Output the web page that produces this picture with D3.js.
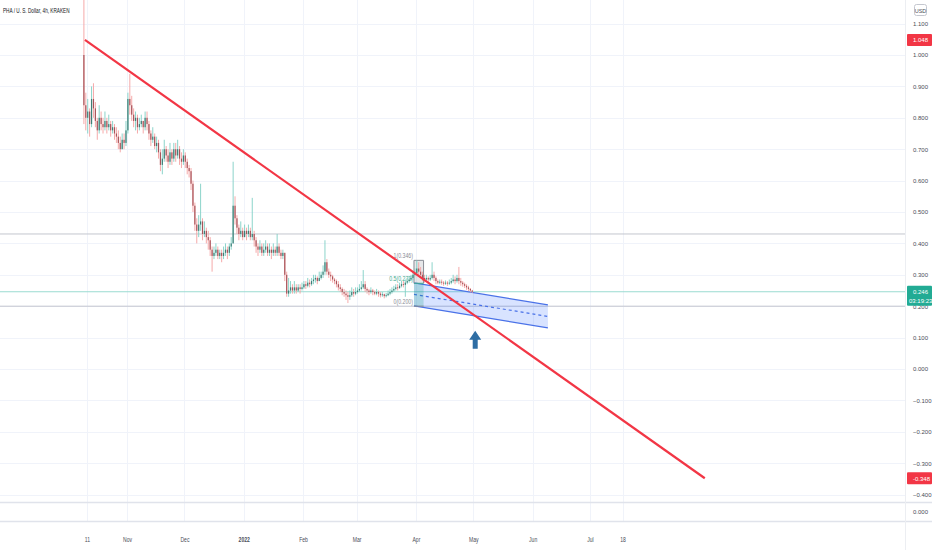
<!DOCTYPE html>
<html>
<head>
<meta charset="utf-8">
<script src="https://cdn.jsdelivr.net/npm/d3@7"></script>
<style>
  body { margin: 0; background: #fff; }
  text { font-family: "Liberation Sans Narrow", "Arial Narrow", "Liberation Sans", sans-serif; }
</style>
</head>
<body>
<svg id="chart" width="932" height="550"></svg>
<script>
// ---- data (daily candles) ----
var startDay = new Date(2021, 9, 9);
var firstOpen = 1.00;

var closes = [0.84,0.80,0.82,0.78,0.86,0.83,0.79,0.76,0.80,0.78,
0.77,0.79,0.77,0.78,0.76,0.77,0.75,0.74,0.72,0.70,
0.73,0.72,0.76,0.86,0.84,0.81,0.79,0.80,0.77,0.78,
0.79,0.77,0.80,0.78,0.75,0.73,0.74,0.71,0.72,0.69,
0.65,0.67,0.70,0.68,0.66,0.69,0.67,0.70,0.68,0.70,
0.67,0.66,0.68,0.66,0.64,0.63,0.59,0.52,0.46,0.44,
0.46,0.47,0.43,0.44,0.42,0.41,0.38,0.36,0.37,0.38,
0.36,0.37,0.36,0.37,0.38,0.37,0.39,0.40,0.52,0.48,
0.45,0.43,0.44,0.42,0.44,0.43,0.44,0.42,0.43,0.41,
0.39,0.38,0.39,0.37,0.38,0.39,0.37,0.38,0.37,0.38,
0.37,0.39,0.37,0.36,0.37,0.30,0.24,0.25,0.26,0.25,
0.26,0.25,0.26,0.255,0.26,0.27,0.265,0.275,0.27,0.28,
0.285,0.29,0.28,0.29,0.30,0.31,0.34,0.31,0.30,0.295,
0.285,0.28,0.27,0.26,0.255,0.245,0.24,0.235,0.23,0.235,
0.245,0.24,0.245,0.25,0.255,0.26,0.27,0.255,0.25,0.245,
0.25,0.245,0.24,0.245,0.24,0.235,0.238,0.232,0.235,0.24,
0.245,0.25,0.255,0.26,0.258,0.265,0.27,0.268,0.275,0.28,
0.285,0.29,0.30,0.305,0.32,0.31,0.30,0.29,0.285,0.29,
0.285,0.29,0.30,0.29,0.28,0.275,0.278,0.275,0.272,0.275,
0.272,0.275,0.28,0.285,0.28,0.29,0.28,0.275,0.27,0.265,
0.26,0.255,0.25,0.246];

var highs = [1.20,0.88,0.86,0.83,0.90,0.91,0.85,0.80,0.84,0.82,
0.80,0.82,0.80,0.81,0.79,0.79,0.78,0.77,0.76,0.74,
0.75,0.75,0.79,0.88,0.94,0.87,0.83,0.82,0.81,0.80,
0.81,0.79,0.82,0.82,0.79,0.76,0.77,0.75,0.74,0.73,
0.70,0.70,0.73,0.71,0.70,0.72,0.70,0.72,0.72,0.73,
0.71,0.69,0.70,0.69,0.67,0.65,0.64,0.60,0.53,0.48,
0.49,0.59,0.48,0.47,0.45,0.44,0.42,0.39,0.39,0.40,
0.39,0.38,0.38,0.39,0.40,0.39,0.40,0.42,0.66,0.55,
0.49,0.46,0.47,0.45,0.46,0.45,0.46,0.45,0.545,0.44,
0.42,0.40,0.41,0.40,0.40,0.41,0.40,0.40,0.39,0.40,
0.39,0.43,0.40,0.38,0.38,0.37,0.31,0.29,0.28,0.27,
0.28,0.27,0.27,0.27,0.275,0.28,0.28,0.29,0.285,0.29,
0.30,0.30,0.295,0.31,0.31,0.33,0.41,0.35,0.32,0.31,
0.30,0.29,0.285,0.28,0.27,0.26,0.255,0.25,0.245,0.25,
0.26,0.255,0.26,0.26,0.27,0.28,0.315,0.28,0.26,0.255,
0.26,0.255,0.25,0.255,0.25,0.245,0.245,0.24,0.242,0.25,
0.255,0.26,0.265,0.27,0.27,0.275,0.28,0.28,0.285,0.29,
0.295,0.30,0.31,0.32,0.346,0.34,0.325,0.31,0.30,0.30,
0.295,0.30,0.34,0.31,0.295,0.285,0.285,0.285,0.28,0.282,
0.28,0.285,0.29,0.30,0.295,0.30,0.325,0.29,0.28,0.275,
0.27,0.265,0.258,0.252];

var lows = [0.78,0.76,0.75,0.74,0.77,0.80,0.77,0.73,0.75,0.76,
0.75,0.76,0.75,0.76,0.74,0.75,0.73,0.72,0.70,0.69,
0.70,0.70,0.71,0.75,0.81,0.79,0.77,0.76,0.75,0.76,
0.77,0.75,0.76,0.76,0.73,0.71,0.72,0.70,0.69,0.67,
0.63,0.62,0.66,0.66,0.64,0.65,0.65,0.66,0.66,0.67,
0.65,0.64,0.65,0.64,0.62,0.61,0.57,0.50,0.44,0.40,
0.42,0.44,0.41,0.42,0.40,0.38,0.36,0.31,0.35,0.36,
0.35,0.35,0.34,0.35,0.36,0.35,0.36,0.38,0.40,0.46,
0.43,0.41,0.42,0.41,0.42,0.41,0.42,0.41,0.41,0.39,
0.37,0.36,0.37,0.36,0.36,0.37,0.36,0.36,0.35,0.36,
0.36,0.36,0.36,0.35,0.35,0.28,0.23,0.23,0.24,0.24,
0.24,0.24,0.245,0.24,0.25,0.255,0.255,0.26,0.26,0.265,
0.27,0.275,0.27,0.28,0.285,0.29,0.30,0.30,0.29,0.28,
0.275,0.27,0.26,0.25,0.245,0.235,0.23,0.22,0.21,0.22,
0.23,0.23,0.235,0.24,0.245,0.25,0.255,0.245,0.24,0.235,
0.24,0.235,0.235,0.235,0.23,0.228,0.23,0.225,0.228,0.232,
0.235,0.24,0.245,0.25,0.25,0.255,0.26,0.26,0.23,0.27,
0.275,0.28,0.285,0.295,0.30,0.295,0.29,0.28,0.275,0.28,
0.275,0.28,0.285,0.28,0.27,0.27,0.27,0.268,0.265,0.268,
0.265,0.268,0.27,0.275,0.27,0.275,0.27,0.265,0.262,0.258,
0.252,0.248,0.244,0.242];

// axes
var priceTicks = [1.1,1.0,0.9,0.8,0.7,0.6,0.5,0.4,0.3,0.2,0.1,0.0,-0.1,-0.2,-0.3,-0.4];
var timeTicks = [new Date(2021,9,11), new Date(2021,10,1), new Date(2021,11,1), new Date(2022,0,1),
  new Date(2022,1,1), new Date(2022,2,1), new Date(2022,3,1), new Date(2022,4,1),
  new Date(2022,5,1), new Date(2022,6,1), new Date(2022,6,18)];
var timeLabels = ["11","Nov","Dec","2022","Feb","Mar","Apr","May","Jun","Jul","18"];

// drawings
var trendDates = [new Date(2021,9,10), new Date(2022,7,30)];
var trendValues = [1.048, -0.348];
var levelValues = [0.43, 0.20];
var lastPrice = 0.246;
var channelDates = [new Date(2022,2,31), new Date(2022,5,9)];
var channelUpper = [0.274, 0.204];
var channelLower = [0.201, 0.131];
var fibDates = [new Date(2022,2,31), new Date(2022,3,5)];
var fibRatios = [1, 0.5, 0];
var fibValues = [0.346, 0.273, 0.200];
var arrowDate = new Date(2022,4,2);
var arrowValue = 0.122;
var axisBadges = [
  {v: 1.048, text: "1.048", color: "#f23645"},
  {v: 0.246, text: "0.246", sub: "03:19:23", color: "#22ab94"},
  {v: -0.348, text: "-0.348", color: "#f23645"}
];

// ---- layout ----
var W = 932, H = 550;
var plotRight = 905;
var paneBottom = 502, subPaneBottom = 521;

var svg = d3.select("#chart");

// squeeze text horizontally (no narrow font installed)
function condense(sel, k) {
  sel.each(function() {
    var l = this.getComputedTextLength();
    d3.select(this).attr("textLength", l * k).attr("lengthAdjust", "spacingAndGlyphs");
  });
}

var x = d3.scaleTime()
  .domain([new Date(2021,10,1), new Date(2022,6,1)])
  .range([127, 590]);
var y = d3.scaleLinear().domain([0, 1]).range([369, 55]);

var candles = closes.map(function(c, i) {
  var o = i === 0 ? firstOpen : closes[i-1];
  return {
    date: d3.timeDay.offset(startDay, i),
    open: o, close: c,
    high: Math.max(highs[i], o, c),
    low: Math.min(lows[i], o, c)
  };
});

// grid
svg.append("g").selectAll("line")
  .data(priceTicks).enter().append("line")
  .attr("x1", 0).attr("x2", plotRight)
  .attr("y1", function(d){ return Math.round(y(d)) + 0.5; })
  .attr("y2", function(d){ return Math.round(y(d)) + 0.5; })
  .attr("stroke", "#f0f3fa");
svg.append("g").selectAll("line")
  .data(timeTicks).enter().append("line")
  .attr("x1", function(d){ return Math.round(x(d)) + 0.5; })
  .attr("x2", function(d){ return Math.round(x(d)) + 0.5; })
  .attr("y1", 0).attr("y2", subPaneBottom)
  .attr("stroke", "#f0f3fa");

// pane borders
svg.append("line").attr("x1", 0).attr("x2", W).attr("y1", paneBottom + 0.5).attr("y2", paneBottom + 0.5)
  .attr("stroke", "#e0e3eb").attr("stroke-width", 1.5);
svg.append("line").attr("x1", 0).attr("x2", W).attr("y1", subPaneBottom + 0.5).attr("y2", subPaneBottom + 0.5)
  .attr("stroke", "#e0e3eb").attr("stroke-width", 1.5);
svg.append("line").attr("x1", plotRight + 0.5).attr("x2", plotRight + 0.5).attr("y1", 0).attr("y2", H)
  .attr("stroke", "#eceef2");

// horizontal levels
svg.append("g").selectAll("line")
  .data(levelValues).enter().append("line")
  .attr("x1", 0).attr("x2", plotRight)
  .attr("y1", function(d){ return y(d); }).attr("y2", function(d){ return y(d); })
  .attr("stroke", "#c3c6ce").attr("stroke-width", 1);
svg.append("line")
  .attr("x1", 0).attr("x2", plotRight)
  .attr("y1", y(lastPrice)).attr("y2", y(lastPrice))
  .attr("stroke", "#9adbd1").attr("stroke-width", 1);

// regression channel
var chPoly = [[x(channelDates[0]), y(channelUpper[0])], [x(channelDates[1]), y(channelUpper[1])],
  [x(channelDates[1]), y(channelLower[1])], [x(channelDates[0]), y(channelLower[0])]];
svg.append("path")
  .attr("d", "M" + chPoly.join("L") + "Z")
  .attr("fill", "rgba(41,98,255,0.18)");
[channelUpper, channelLower].forEach(function(vals) {
  svg.append("line")
    .attr("x1", x(channelDates[0])).attr("y1", y(vals[0]))
    .attr("x2", x(channelDates[1])).attr("y2", y(vals[1]))
    .attr("stroke", "#4a72e8").attr("stroke-width", 1.2);
});
svg.append("line")
  .attr("x1", x(channelDates[0])).attr("y1", y((channelUpper[0] + channelLower[0]) / 2))
  .attr("x2", x(channelDates[1])).attr("y2", y((channelUpper[1] + channelLower[1]) / 2))
  .attr("stroke", "#4a72e8").attr("stroke-width", 1.2).attr("stroke-dasharray", "3,3");

// fib retracement box
var fx0 = x(fibDates[0]), fx1 = x(fibDates[1]);
svg.append("rect")
  .attr("x", fx0).attr("width", fx1 - fx0)
  .attr("y", y(fibValues[0])).attr("height", y(fibValues[1]) - y(fibValues[0]))
  .attr("fill", "rgba(120,123,134,0.18)");
svg.append("rect")
  .attr("x", fx0).attr("width", fx1 - fx0)
  .attr("y", y(fibValues[1])).attr("height", y(fibValues[2]) - y(fibValues[1]))
  .attr("fill", "rgba(8,153,129,0.22)");
svg.append("g").selectAll("line")
  .data(fibValues).enter().append("line")
  .attr("x1", fx0).attr("x2", fx1)
  .attr("y1", function(d){ return y(d); }).attr("y2", function(d){ return y(d); })
  .attr("stroke", function(d, i){ return i === 1 ? "#3fa98f" : "#8a8d96"; });
svg.append("line").attr("x1", fx0).attr("x2", fx0).attr("y1", y(fibValues[0])).attr("y2", y(fibValues[1]))
  .attr("stroke", "#8a8d96");
svg.append("line").attr("x1", fx1).attr("x2", fx1).attr("y1", y(fibValues[0])).attr("y2", y(fibValues[1]))
  .attr("stroke", "#8a8d96");
var fibText = svg.append("g").selectAll("text")
  .data(fibValues).enter().append("text")
  .attr("x", fx0 - 1).attr("y", function(d){ return y(d) - 2; })
  .attr("text-anchor", "end")
  .attr("font-size", 6.5)
  .attr("fill", function(d, i){ return i === 1 ? "#3fa98f" : "#8a8d96"; })
  .text(function(d, i){ return fibRatios[i] + "(" + d3.format(".3f")(d) + ")"; });
condense(fibText, 0.8);

// candles
var cg = svg.append("g");
cg.selectAll("line")
  .data(candles).enter().append("line")
  .attr("x1", function(d){ return x(d.date) + 0.9; })
  .attr("x2", function(d){ return x(d.date) + 0.9; })
  .attr("y1", function(d){ return y(d.high); })
  .attr("y2", function(d){ return y(d.low); })
  .attr("stroke", function(d){ return d.close >= d.open ? "#7fcfc4" : "#f4a0a0"; })
  .attr("stroke-width", 0.9);
cg.selectAll("rect")
  .data(candles).enter().append("rect")
  .attr("x", function(d){ return x(d.date) + 0.3; })
  .attr("width", 1.2)
  .attr("y", function(d){ return y(Math.max(d.open, d.close)); })
  .attr("height", function(d){ return Math.max(0.8, Math.abs(y(d.open) - y(d.close))); })
  .attr("fill", function(d){ return d.close >= d.open ? "#3d7f77" : "#a8545a"; });

// trend line
svg.append("line")
  .attr("x1", x(trendDates[0])).attr("y1", y(trendValues[0]))
  .attr("x2", x(trendDates[1])).attr("y2", y(trendValues[1]))
  .attr("stroke", "#f23645").attr("stroke-width", 2.2);

// arrow
var ax = x(arrowDate), ay = y(arrowValue);
svg.append("path")
  .attr("d", "M" + ax + "," + ay + " l6,9 h-3.5 v9 h-5 v-9 h-3.5 Z")
  .attr("fill", "#2e6da4");

// axes
var yAxis = d3.axisRight(y).tickValues(priceTicks).tickFormat(d3.format(".3f")).tickSize(0);
var yg = svg.append("g").attr("transform", "translate(" + (plotRight + 8) + ",0)").call(yAxis);
yg.select(".domain").remove();
yg.selectAll("text").attr("font-size", 6).attr("fill", "#4a4d57").attr("x", 0)
  .style("font-family", "'Liberation Sans Narrow','Arial Narrow',sans-serif");

var xAxis = d3.axisBottom(x).tickValues(timeTicks).tickFormat(function(d, i){ return timeLabels[i]; }).tickSize(0);
var xg = svg.append("g").attr("transform", "translate(0," + (subPaneBottom + 13) + ")").call(xAxis);
xg.select(".domain").remove();
xg.selectAll("text").attr("font-size", 6.5).attr("fill", "#4a4d57")
  .attr("font-weight", function(d, i){ return timeLabels[i] === "2022" ? "bold" : null; })
  .style("font-family", "'Liberation Sans Narrow','Arial Narrow',sans-serif");
condense(xg.selectAll("text"), 0.78);

// lower pane label
svg.append("text").attr("x", plotRight + 8).attr("y", (paneBottom + subPaneBottom) / 2 + 2)
  .attr("font-size", 6).attr("fill", "#4a4d57").text("0.000");

// axis badges
axisBadges.forEach(function(b) {
  var h = b.sub ? 20 : 12;
  var top = y(b.v) - 6;
  svg.append("rect").attr("x", plotRight + 2).attr("y", top).attr("width", 25).attr("height", h)
    .attr("rx", 1).attr("fill", b.color);
  svg.append("text").attr("x", plotRight + 8).attr("y", top + 8.5).attr("font-size", 6)
    .attr("fill", "#fff").text(b.text);
  if (b.sub) {
    svg.append("text").attr("x", plotRight + 4).attr("y", top + 17).attr("font-size", 6)
      .attr("fill", "#fff").text(b.sub);
  }
});

// currency box + title
svg.append("rect").attr("x", 914.5).attr("y", 4.5).attr("width", 12).attr("height", 11)
  .attr("rx", 2).attr("fill", "none").attr("stroke", "#c4c7cf");
svg.append("text").attr("x", 920.5).attr("y", 12.5).attr("text-anchor", "middle")
  .attr("font-size", 5.5).attr("fill", "#4a4d57").text("USD");
var title = svg.append("text").attr("x", 3).attr("y", 13).attr("font-size", 6.5).attr("fill", "#131722")
  .text("PHA / U. S. Dollar, 4h, KRAKEN");
condense(title, 0.72);
</script>
</body>
</html>
